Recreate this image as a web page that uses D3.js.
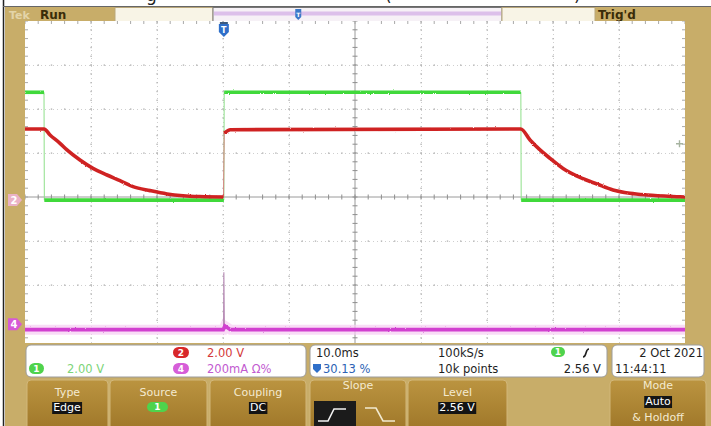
<!DOCTYPE html>
<html>
<head>
<meta charset="utf-8">
<script src="https://cdn.jsdelivr.net/npm/d3@7"></script>
<style>
  body { margin: 0; background: #fff; }
  svg { display: block; font-family: "DejaVu Sans", sans-serif; }
</style>
</head>
<body>
<svg id="scope" width="711" height="426"></svg>
<script>
// ---- acquisition settings ----
const timePerDiv = 10;          // ms / div
const triggerPct = 30.13;       // trigger position, % of record
const horizDivs = d3.range(-5, 6);
const vertDivs = d3.range(-4, 5);

// ---- channel 1 (green), 2.00 V/div ----
const ch1Scale = 2.0;
const ch1Offset = -0.07;        // divisions
const ch1Time  = [-30.13, -27.25, -27.2, 0.0, 0.05, 45.0, 45.05, 69.87];
const ch1Volts = [4.9, 4.9, 0.0, 0.0, 4.9, 4.9, 0.0, 0.0];

// ---- channel 2 (red), 2.00 V/div ----
const ch2Scale = 2.0;
const ch2Offset = 0;
const ch2Time  = [-30.13, -27.25, -26.34, -24.83, -23.77, -21.8, -19.83, -17.71, -15.74, -13.77,
                  -11.19, -8.61, -6.19, -3.61, -0.05, 0.05, 1.0, 44.98, 46.39, 47.9, 49.42,
                  51.39, 53.96, 56.54, 58.96, 61.54, 64.12, 69.13, 69.87];
const ch2Volts = [3.09, 3.09, 2.82, 2.44, 2.14, 1.68, 1.30, 1.0, 0.74, 0.47,
                  0.29, 0.14, 0.06, 0.02, 0.0, 2.9, 3.06, 3.09, 2.59, 2.14, 1.76,
                  1.30, 0.89, 0.59, 0.32, 0.17, 0.09, 0.01, 0.0];

// ---- channel 4 (magenta), 200 mA/div ----
const ch4Scale = 200;
const ch4Offset = -2.89;
const ch4Time  = [-30.13, -0.1, 0.15, 0.5, 1.0, 69.87];
const ch4mA    = [-25, -25, -8, -15, -25, -25];
const ch4SpikeTime = [-0.05, 0.0, 0.08, 0.3];
const ch4SpikemA   = [-25, 236, -5, -20];

// ---- readouts ----
const ch1Label = "2.00 V";
const ch2Label = "2.00 V";
const ch4Label = "200mA Ω%";
const timebaseLabel = "10.0ms";
const triggerPosLabel = "30.13 %";
const sampleRateLabel = "100kS/s";
const recordLabel = "10k points";
const trigLevelLabel = "2.56 V";
const dateLabel = "2 Oct  2021";
const timeLabel = "11:44:11";
const menuTitles = ["Type", "Source", "Coupling", "Slope", "Level", "Mode"];
const menuValues = ["Edge", "1", "DC", "", "2.56 V", "Auto"];

// ---- layout ----
const svg = d3.select("#scope");
const P = { left: 25, right: 685, top: 21, bottom: 343, cy: 197 };
const divH = 44;

const xDiv = d3.scaleLinear().domain([-5, 5]).range([P.left, P.right]);
const xTime = d3.scaleLinear()
  .domain([-triggerPct / 100 * 10 * timePerDiv, (100 - triggerPct) / 100 * 10 * timePerDiv])
  .range([P.left, P.right]);
const yDiv = d3.scaleLinear().domain([-4, 4]).range([P.cy + 4 * divH, P.cy - 4 * divH]);

const defs = svg.append("defs");
defs.append("clipPath").attr("id", "plotClip")
  .append("rect").attr("x", P.left).attr("y", P.top)
  .attr("width", P.right - P.left).attr("height", P.bottom - P.top);
defs.append("clipPath").attr("id", "capClip")
  .append("rect").attr("x", 0).attr("y", 0).attr("width", 711).attr("height", 6);

const jit = defs.append("filter").attr("id", "jitter")
  .attr("filterUnits", "userSpaceOnUse")
  .attr("x", 0).attr("y", 0).attr("width", 711).attr("height", 426);
jit.append("feTurbulence").attr("type", "fractalNoise")
  .attr("baseFrequency", "1.6 0.9").attr("numOctaves", 1).attr("seed", 4).attr("result", "n");
jit.append("feDisplacementMap").attr("in", "SourceGraphic").attr("in2", "n")
  .attr("scale", 2.2).attr("xChannelSelector", "R").attr("yChannelSelector", "G");

const btnGrad = defs.append("linearGradient").attr("id", "btnGrad")
  .attr("x1", 0).attr("y1", 0).attr("x2", 0).attr("y2", 1);
btnGrad.append("stop").attr("offset", "0%").attr("stop-color", "#bb9440");
btnGrad.append("stop").attr("offset", "100%").attr("stop-color", "#9e7628");

// ---- frame ----
svg.append("rect").attr("x", 5).attr("y", 7).attr("width", 706).attr("height", 419).attr("fill", "#c8ad69");
svg.append("line").attr("x1", 3.5).attr("x2", 3.5).attr("y1", 0).attr("y2", 426)
  .attr("stroke", "#222").attr("stroke-width", 1.5);
svg.append("line").attr("x1", 3).attr("x2", 711).attr("y1", 6.5).attr("y2", 6.5)
  .attr("stroke", "#666").attr("stroke-width", 1);

// caption above the frame (only its lower edge shows)
const cap = svg.append("g").attr("clip-path", "url(#capClip)")
  .attr("font-size", 17).attr("fill", "#222");
cap.append("text").attr("x", 146).attr("y", 1).text("g");
cap.append("text").attr("x", 385).attr("y", 1).text("(");
cap.append("text").attr("x", 574).attr("y", 1).text(")");

// ---- top status bar ----
const topBar = svg.append("g");
topBar.append("text").attr("x", 9).attr("y", 19).attr("font-size", 11).attr("font-weight", "bold")
  .attr("fill", "#e3d4a8").text("Tek");
topBar.append("text").attr("x", 40).attr("y", 19).attr("font-size", 12).attr("font-weight", "bold")
  .attr("fill", "#3a2c08").text("Run");
topBar.append("rect").attr("x", 115).attr("y", 7.5).attr("width", 98).attr("height", 14)
  .attr("fill", "#f8f4e6").attr("stroke", "#b9a77a");
topBar.append("rect").attr("x", 213).attr("y", 7.5).attr("width", 289).attr("height", 14)
  .attr("fill", "#f6f1f6").attr("stroke", "#777");
topBar.append("rect").attr("x", 214).attr("y", 11.5).attr("width", 287).attr("height", 4)
  .attr("fill", "#dcc0ea");
topBar.append("rect").attr("x", 502).attr("y", 7.5).attr("width", 93).attr("height", 14)
  .attr("fill", "#f8f4e6").attr("stroke", "#b9a77a");
topBar.append("text").attr("x", 598).attr("y", 19).attr("font-size", 12).attr("font-weight", "bold")
  .attr("fill", "#3a2c08").text("Trig'd");
// record-position marker in the bar
const recX = 213 + 289 * 0.295;
topBar.append("path")
  .attr("d", `M${recX - 3},9 h6 v8 l-3,3 l-3,-3 z`)
  .attr("fill", "#3b78c8");
topBar.append("text").attr("x", recX).attr("y", 16.5).attr("font-size", 6).attr("fill", "#fff")
  .attr("text-anchor", "middle").attr("font-weight", "bold").text("T");

// ---- graticule ----
svg.append("rect").attr("x", P.left).attr("y", P.top).attr("width", P.right - P.left)
  .attr("height", P.bottom - P.top).attr("fill", "#fff");

const grid = svg.append("g").attr("clip-path", "url(#plotClip)");
const gx = grid.append("g").attr("transform", `translate(0,${P.bottom})`)
  .call(d3.axisBottom(xDiv).tickValues(horizDivs.filter(d => d !== 0 && Math.abs(d) < 5))
    .tickSize(-(P.bottom - P.top)).tickFormat(""));
const gy = grid.append("g").attr("transform", `translate(${P.left},0)`)
  .call(d3.axisLeft(yDiv).tickValues(vertDivs.filter(d => d !== 0 && Math.abs(d) < 4))
    .tickSize(-(P.right - P.left)).tickFormat(""));
[gx, gy].forEach(g => {
  g.select(".domain").remove();
  g.selectAll(".tick line").attr("stroke", "#cfcfcf").attr("stroke-dasharray", "1,3");
});

// dots at sub-divisions on each major line
const minorX = d3.range(-25, 26).map(i => i / 5);
const minorY = d3.range(-20, 21).map(i => i / 5);
vertDivs.filter(d => d !== 0 && Math.abs(d) < 4).forEach(r => {
  grid.append("g").selectAll("rect").data(minorX).join("rect")
    .attr("x", d => xDiv(d) - 0.6).attr("y", yDiv(r) - 0.6)
    .attr("width", 1.4).attr("height", 1.4).attr("fill", "#b5b5b5");
});
horizDivs.filter(d => d !== 0 && Math.abs(d) < 5).forEach(c => {
  grid.append("g").selectAll("rect").data(minorY).join("rect")
    .attr("x", xDiv(c) - 0.6).attr("y", d => yDiv(d) - 0.6)
    .attr("width", 1.4).attr("height", 1.4).attr("fill", "#b5b5b5");
});

// center cross with minor ticks
grid.append("line").attr("x1", P.left).attr("x2", P.right).attr("y1", yDiv(0)).attr("y2", yDiv(0))
  .attr("stroke", "#8e8e8e").attr("stroke-width", 0.9);
grid.append("line").attr("x1", xDiv(0)).attr("x2", xDiv(0)).attr("y1", P.top).attr("y2", P.bottom)
  .attr("stroke", "#8e8e8e").attr("stroke-width", 0.9);
grid.append("g").selectAll("line").data(minorX).join("line")
  .attr("x1", d => xDiv(d)).attr("x2", d => xDiv(d))
  .attr("y1", yDiv(0) - 2.5).attr("y2", yDiv(0) + 2.5).attr("stroke", "#8e8e8e");
grid.append("g").selectAll("line").data(minorY).join("line")
  .attr("y1", d => yDiv(d)).attr("y2", d => yDiv(d))
  .attr("x1", xDiv(0) - 2.5).attr("x2", xDiv(0) + 2.5).attr("stroke", "#8e8e8e");
// edge ticks
grid.append("g").selectAll("line").data(minorX).join("line")
  .attr("x1", d => xDiv(d)).attr("x2", d => xDiv(d))
  .attr("y1", P.top).attr("y2", P.top + 3).attr("stroke", "#a8a8a8");
grid.append("g").selectAll("line").data(minorY).join("line")
  .attr("y1", d => yDiv(d)).attr("y2", d => yDiv(d))
  .attr("x1", P.left).attr("x2", P.left + 3).attr("stroke", "#a8a8a8");
grid.append("g").selectAll("line").data(minorY).join("line")
  .attr("y1", d => yDiv(d)).attr("y2", d => yDiv(d))
  .attr("x1", P.right - 3).attr("x2", P.right).attr("stroke", "#a8a8a8");

// ---- traces ----
function toPoints(times, vals, scale, offset) {
  return times.map((t, i) => [xTime(t), yDiv(offset + vals[i] / scale)]);
}
// split a polyline into flat runs, leaving fast edges for the thin pass
function runs(pts) {
  const out = [];
  let cur = [pts[0]];
  for (let i = 1; i < pts.length; i++) {
    const dx = Math.abs(pts[i][0] - pts[i - 1][0]);
    const dy = Math.abs(pts[i][1] - pts[i - 1][1]);
    if (dy > 10 && dy > 6 * dx) {
      if (cur.length > 1) out.push(cur);
      cur = [pts[i]];
    } else cur.push(pts[i]);
  }
  if (cur.length > 1) out.push(cur);
  return out;
}
const line = d3.line();
const smooth = d3.line().curve(d3.curveMonotoneX);

const traces = svg.append("g").attr("clip-path", "url(#plotClip)");

function drawChannel(pts, color, edgeColor, width, curve) {
  traces.append("path").attr("d", line(pts)).attr("fill", "none")
    .attr("stroke", edgeColor).attr("stroke-width", 1);
  const g = traces.append("g").attr("filter", "url(#jitter)");
  runs(pts).forEach(r => {
    g.append("path").attr("d", curve(r)).attr("fill", "none")
      .attr("stroke", color).attr("stroke-width", width).attr("stroke-linecap", "butt");
  });
}

// channel 4 haze + trace + spike
const ch4Pts = toPoints(ch4Time, ch4mA, ch4Scale, ch4Offset);
traces.append("path").attr("d", line(ch4Pts)).attr("fill", "none")
  .attr("stroke", "#f6cdf2").attr("stroke-width", 10).attr("opacity", 0.7);
const spikePts = toPoints(ch4SpikeTime, ch4SpikemA, ch4Scale, ch4Offset);
traces.append("path").attr("d", line(spikePts)).attr("fill", "none")
  .attr("stroke", "#b68ab4").attr("stroke-width", 1.1);
traces.append("g").attr("filter", "url(#jitter)")
  .append("path").attr("d", line(ch4Pts)).attr("fill", "none")
  .attr("stroke", "#d13fd0").attr("stroke-width", 3.6);

drawChannel(toPoints(ch1Time, ch1Volts, ch1Scale, ch1Offset), "#3fd93a", "#8fe08a", 3.6, line);
drawChannel(toPoints(ch2Time, ch2Volts, ch2Scale, ch2Offset), "#cf2323", "#d98080", 3.6, smooth);

// ---- markers ----
// trigger position marker
const tx = xTime(0);
svg.append("rect").attr("x", tx - 4).attr("y", 22).attr("width", 8).attr("height", 2).attr("fill", "#3c5a80");
svg.append("path").attr("d", `M${tx - 5},24 h10 v8 l-5,5 l-5,-5 z`).attr("fill", "#2f6fc9");
svg.append("text").attr("x", tx).attr("y", 33).attr("font-size", 8).attr("font-weight", "bold")
  .attr("fill", "#fff").attr("text-anchor", "middle").text("T");

function groundMarker(y, fill, label) {
  svg.append("path").attr("d", `M8,${y - 6} h9 l5,6 l-5,6 h-9 z`).attr("fill", fill);
  svg.append("text").attr("x", 14).attr("y", y + 3.5).attr("font-size", 10).attr("font-weight", "bold")
    .attr("fill", "#fff").attr("text-anchor", "middle").text(label);
}
groundMarker(yDiv(ch2Offset) + 3, "#eab2c6", "2");
groundMarker(yDiv(ch4Offset), "#d65ad6", "4");

// trigger level indicator on the right edge (2.56 V on channel 1)
const trigY = yDiv(ch1Offset + 2.56 / ch1Scale);
svg.append("path").attr("d", `M676,${trigY} h7 M679.5,${trigY - 3.5} v7`)
  .attr("stroke", "#a6b3a0").attr("stroke-width", 1.4);

// ---- readout boxes ----
function box(x, y, w, h) {
  svg.append("rect").attr("x", x).attr("y", y).attr("width", w).attr("height", h)
    .attr("rx", 5).attr("fill", "#fff").attr("stroke", "#9c9c9c").attr("stroke-width", 1);
}
function pill(x, y, w, h, fill, label) {
  svg.append("rect").attr("x", x).attr("y", y).attr("width", w).attr("height", h)
    .attr("rx", h / 2).attr("fill", fill);
  svg.append("text").attr("x", x + w / 2).attr("y", y + h - 2.5).attr("font-size", 9)
    .attr("font-weight", "bold").attr("fill", "#fff").attr("text-anchor", "middle").text(label);
}
function txt(x, y, s, color, anchor = "start", size = 11.5) {
  svg.append("text").attr("x", x).attr("y", y).attr("font-size", size).attr("fill", color)
    .attr("text-anchor", anchor).text(s);
}

box(26, 345, 280, 32);
pill(29, 363, 15, 11, "#4fd34c", "1");
txt(67, 373, ch1Label, "#7cd478");
pill(173, 347, 16, 11, "#d8282b", "2");
txt(207, 357, ch2Label, "#d43a3a");
pill(173, 363, 16, 11, "#d65ed8", "4");
txt(207, 373, ch4Label, "#c25ad0");

box(310, 345, 297, 32);
txt(316, 357, timebaseLabel, "#1e1e1e");
svg.append("path").attr("d", "M313,364 h8 v5 l-4,4 l-4,-4 z").attr("fill", "#2f6fc9");
txt(323, 373, triggerPosLabel, "#2c62b4");
txt(438, 357, sampleRateLabel, "#1e1e1e");
txt(438, 373, recordLabel, "#1e1e1e");
pill(551, 347, 14, 10, "#4fd34c", "1");
svg.append("path").attr("d", "M583,357 q2,0 3,-4 q1,-4 3,-4").attr("fill", "none")
  .attr("stroke", "#1e1e1e").attr("stroke-width", 1.6);
txt(601, 373, trigLevelLabel, "#1e1e1e", "end");

box(612, 345, 92, 32);
txt(703, 357, dateLabel, "#1e1e1e", "end");
txt(615, 373, timeLabel, "#1e1e1e");

// ---- menu buttons ----
const buttons = [
  { x: 27, w: 81 }, { x: 110, w: 97 }, { x: 210, w: 96 },
  { x: 310, w: 96 }, { x: 408, w: 99 }, { x: 610, w: 96 }
];
buttons.forEach((b, i) => {
  svg.append("rect").attr("x", b.x).attr("y", 380).attr("width", b.w).attr("height", 52)
    .attr("rx", 4).attr("fill", "url(#btnGrad)").attr("stroke", "#d2b77a").attr("stroke-width", 1);
  const cx = b.x + b.w / 2;
  const titleY = (i === 3 || i === 5) ? 389 : 396;
  txt(cx, titleY, menuTitles[i], "#f4ead0", "middle", 11);
});
function valueTag(cx, y, s) {
  const t = svg.append("text").attr("x", cx).attr("y", y).attr("font-size", 11)
    .attr("fill", "#fff").attr("text-anchor", "middle").text(s);
  const bb = t.node().getBBox();
  svg.insert("rect", () => t.node()).attr("x", bb.x - 1).attr("y", bb.y + 1)
    .attr("width", bb.width + 2).attr("height", bb.height - 1).attr("fill", "#141414");
}
valueTag(67, 411, menuValues[0]);
pill(147, 402, 21, 10, "#4fd34c", menuValues[1]);
valueTag(258, 411, menuValues[2]);
valueTag(457, 411, menuValues[4]);
valueTag(658, 405, menuValues[5]);
txt(658, 421, "& Holdoff", "#f4ead0", "middle", 11);

// slope choices
svg.append("rect").attr("x", 314).attr("y", 401).attr("width", 42).attr("height", 30).attr("fill", "#1b1b1b");
svg.append("path").attr("d", "M318,421 h10 l6,-12 h12").attr("fill", "none")
  .attr("stroke", "#f2f2f2").attr("stroke-width", 1.6);
svg.append("path").attr("d", "M365,408 h11 l7,13 h12").attr("fill", "none")
  .attr("stroke", "#f2ead0").attr("stroke-width", 1.6);
</script>
</body>
</html>
